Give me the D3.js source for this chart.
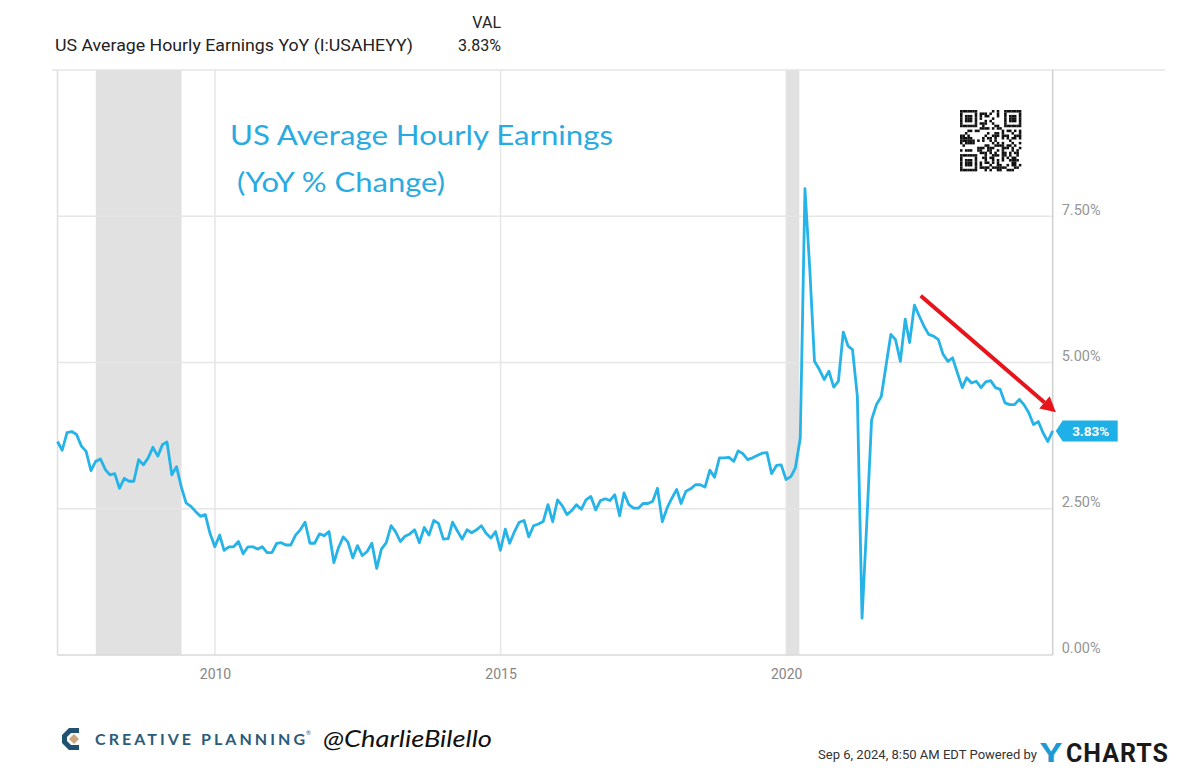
<!DOCTYPE html>
<html><head><meta charset="utf-8">
<script src="https://cdn.jsdelivr.net/npm/d3@7"></script>
<style>
html,body{margin:0;padding:0;background:#fff;}
svg{display:block;}
</style></head>
<body>
<svg id="chart" width="1200" height="775"></svg>
<script>
// ---------------- DATA ----------------
const seriesName = "US Average Hourly Earnings YoY (I:USAHEYY)";
const firstMonth = [2007, 3];   // March 2007, monthly observations to Aug 2024
const earningsYoY = [
 3.65,3.50,3.80,3.82,3.77,3.57,3.48,3.15,3.31,3.35,
 3.17,3.08,3.10,2.85,3.02,2.97,2.97,3.34,3.25,3.37,
 3.55,3.40,3.60,3.64,3.08,3.22,2.87,2.60,2.54,2.45,
 2.37,2.40,2.08,1.85,2.05,1.79,1.85,1.85,1.94,1.73,
 1.85,1.85,1.81,1.85,1.75,1.75,1.91,1.92,1.88,1.88,
 2.05,2.14,2.27,1.91,1.91,2.07,2.04,2.11,1.58,1.83,
 2.02,1.93,1.66,1.87,1.70,1.77,1.91,1.48,1.81,1.92,
 2.21,2.11,1.94,2.03,2.07,2.14,1.92,2.18,2.05,2.30,
 2.25,1.98,1.99,2.27,2.12,1.98,2.14,2.09,2.14,2.21,
 2.08,2.00,2.11,1.79,2.15,1.91,2.11,2.27,2.30,2.02,
 2.21,2.24,2.28,2.57,2.28,2.65,2.55,2.40,2.47,2.57,
 2.49,2.65,2.71,2.48,2.64,2.67,2.64,2.74,2.38,2.77,
 2.57,2.51,2.51,2.59,2.59,2.63,2.85,2.28,2.51,2.68,
 2.83,2.59,2.80,2.84,2.91,2.91,2.87,3.16,3.04,3.37,
 3.37,3.38,3.31,3.49,3.44,3.34,3.37,3.41,3.45,3.46,
 3.10,3.24,3.25,3.00,3.05,3.20,3.71,7.97,6.59,5.02,
 4.88,4.71,4.85,4.58,4.68,5.52,5.28,5.22,4.42,0.63,
 2.30,4.02,4.28,4.42,4.94,5.48,5.39,5.02,5.74,5.34,
 5.98,5.80,5.62,5.48,5.45,5.39,5.14,5.02,5.08,4.82,
 4.57,4.74,4.65,4.68,4.57,4.67,4.69,4.57,4.54,4.31,
 4.28,4.28,4.37,4.28,4.14,3.94,3.99,3.80,3.65,3.83
];
const lastValueLabel = "3.83%";
const yTicks = [0, 2.5, 5, 7.5];
const yTickLabels = ["0.00%", "2.50%", "5.00%", "7.50%"];
const xTickYears = [2010, 2015, 2020];
const recessionStarts = ["2007-12-01", "2020-01-01"];
const recessionEnds   = ["2009-06-01", "2020-03-25"];
const arrowFrom = ["2022-05-10", 6.14];
const arrowTo   = ["2024-09-20", 4.15];
const titleLines = ["US Average Hourly Earnings", "(YoY % Change)"];
const footerStamp = "Sep 6, 2024, 8:50 AM EDT Powered by";

// ---------------- SETUP ----------------
const svg = d3.select("#chart");
const parse = d3.utcParse("%Y-%m-%d");
const monthEnd = m => d3.utcDay.offset(d3.utcMonth.offset(m, 1), -1);
const startMonth = new Date(Date.UTC(firstMonth[0], firstMonth[1] - 1, 1));
const data = earningsYoY.map((v, i) => ({ date: monthEnd(d3.utcMonth.offset(startMonth, i)), value: v }));

const plot = { left: 57.5, right: 1052.7, top: 70, bottom: 655 };
const x = d3.scaleUtc().domain(d3.extent(data, d => d.date)).range([plot.left, plot.right]);
const y = d3.scaleLinear().domain([0, 10]).range([plot.bottom, plot.top]);

const gridColor = "#e6e6e6";
const lineColor = "#25b3e8";

// recession shading
svg.append("g").selectAll("rect")
  .data(recessionStarts.map((s, i) => [parse(s), parse(recessionEnds[i])]))
  .join("rect")
  .attr("x", d => x(d[0])).attr("width", d => x(d[1]) - x(d[0]))
  .attr("y", plot.top).attr("height", plot.bottom - plot.top)
  .attr("fill", "#e1e1e1");

// horizontal gridlines
svg.append("g").selectAll("line")
  .data(yTicks.filter(t => t > 0))
  .join("line")
  .attr("x1", plot.left).attr("x2", plot.right)
  .attr("y1", d => y(d)).attr("y2", d => y(d))
  .attr("stroke", gridColor).attr("stroke-width", 1.5);

// vertical gridlines
svg.append("g").selectAll("line")
  .data(xTickYears)
  .join("line")
  .attr("x1", d => x(new Date(Date.UTC(d, 0, 1)))).attr("x2", d => x(new Date(Date.UTC(d, 0, 1))))
  .attr("y1", plot.top).attr("y2", plot.bottom)
  .attr("stroke", gridColor).attr("stroke-width", 1.5);

// frame
svg.append("line").attr("x1", 52).attr("x2", 1165).attr("y1", plot.top).attr("y2", plot.top)
  .attr("stroke", "#e4e4e4").attr("stroke-width", 1.5);
svg.append("line").attr("x1", plot.left).attr("x2", plot.left).attr("y1", plot.top).attr("y2", plot.bottom)
  .attr("stroke", "#e0e0e0").attr("stroke-width", 1.5);
svg.append("line").attr("x1", plot.left).attr("x2", plot.right).attr("y1", plot.bottom).attr("y2", plot.bottom)
  .attr("stroke", "#d8d8d8").attr("stroke-width", 1.5);
svg.append("line").attr("x1", plot.right).attr("x2", plot.right).attr("y1", plot.top).attr("y2", plot.bottom)
  .attr("stroke", "#d0d0d0").attr("stroke-width", 1.5);

// y axis labels (right)
const yAxis = d3.axisRight(y).tickValues(yTicks).tickSize(0).tickPadding(9)
  .tickFormat((d, i) => yTickLabels[i]);
const gy = svg.append("g").attr("transform", `translate(${plot.right},0)`).call(yAxis);
gy.select(".domain").remove();
gy.selectAll("text").attr("font-family", "Roboto, sans-serif").attr("font-size", 14.5)
  .attr("fill", "#959595").attr("dy", "-0.15em");

// x axis labels
const xAxis = d3.axisBottom(x).tickValues(xTickYears.map(yr => new Date(Date.UTC(yr, 0, 1))))
  .tickSize(0).tickPadding(14).tickFormat(d3.utcFormat("%Y"));
const gx = svg.append("g").attr("transform", `translate(0,${plot.bottom})`).call(xAxis);
gx.select(".domain").remove();
gx.selectAll("text").attr("font-family", "Roboto, sans-serif").attr("font-size", 14).attr("fill", "#858585");

// data line
const line = d3.line().x(d => x(d.date)).y(d => y(d.value));
svg.append("path").datum(data).attr("d", line)
  .attr("fill", "none").attr("stroke", lineColor).attr("stroke-width", 2.8)
  .attr("stroke-linejoin", "round");

// last value tag
const last = data[data.length - 1];
const ty = y(last.value);
const tx = plot.right + 3;
svg.append("path")
  .attr("d", `M${tx},${ty} L${tx + 7},${ty - 10.5} L${tx + 62},${ty - 10.5} L${tx + 62},${ty + 10.5} L${tx + 7},${ty + 10.5} Z`)
  .attr("fill", "#1fb0e8");
svg.append("text").attr("x", tx + 35).attr("y", ty + 5).attr("text-anchor", "middle")
  .attr("font-family", "Roboto, sans-serif").attr("font-weight", 700).attr("font-size", 13.5)
  .attr("fill", "#fff").text(lastValueLabel);

// red arrow annotation
const ax1 = x(parse(arrowFrom[0])), ay1 = y(arrowFrom[1]);
const ax2 = x(parse(arrowTo[0])), ay2 = y(arrowTo[1]);
const ang = Math.atan2(ay2 - ay1, ax2 - ax1);
const headLen = 15, headW = 8;
const bx = ax2 - headLen * Math.cos(ang), by = ay2 - headLen * Math.sin(ang);
svg.append("line").attr("x1", ax1).attr("y1", ay1).attr("x2", bx).attr("y2", by)
  .attr("stroke", "#e8141c").attr("stroke-width", 4);
svg.append("path")
  .attr("d", `M${ax2},${ay2} L${bx + headW * Math.sin(ang)},${by - headW * Math.cos(ang)} L${bx - headW * Math.sin(ang)},${by + headW * Math.cos(ang)} Z`)
  .attr("fill", "#e8141c");

// chart title (handwritten style)
svg.append("text").attr("x", 230).attr("y", 145)
  .attr("font-family", "Lato, sans-serif").attr("font-size", 27)
  .attr("fill", "#29abe2").attr("textLength", 383).attr("lengthAdjust", "spacingAndGlyphs")
  .text(titleLines[0]);
svg.append("text").attr("x", 237).attr("y", 192)
  .attr("font-family", "Lato, sans-serif").attr("font-size", 27)
  .attr("fill", "#29abe2").attr("textLength", 208).attr("lengthAdjust", "spacingAndGlyphs")
  .text(titleLines[1]);

// QR-like code decoration
(function () {
  const n = 25, s = 2.45, ox = 960, oy = 110;
  const g = svg.append("g");
  g.append("rect").attr("x", ox - 2).attr("y", oy - 2).attr("width", n * s + 4).attr("height", n * s + 4).attr("fill", "#fff");
  const seed = "https://ycharts.com/indicators/us_average_hourly_earnings_yoy";
  let h = 2166136261;
  const cells = [];
  for (let r = 0; r < n; r++) for (let c = 0; c < n; c++) {
    const inFinder = (rr, cc) => rr >= 0 && rr < 7 && cc >= 0 && cc < 7;
    let on;
    const finders = [[0, 0], [0, n - 7], [n - 7, 0]];
    let f = finders.find(([fr, fc]) => inFinder(r - fr, c - fc));
    if (f) {
      const rr = r - f[0], cc = c - f[1];
      on = (rr === 0 || rr === 6 || cc === 0 || cc === 6) || (rr >= 2 && rr <= 4 && cc >= 2 && cc <= 4);
    } else if (finders.some(([fr, fc]) => r >= fr - 1 && r <= fr + 7 && c >= fc - 1 && c <= fc + 7)) {
      on = false;
    } else {
      h ^= seed.charCodeAt((r * n + c) % seed.length);
      h = Math.imul(h, 16777619) >>> 0;
      on = (h >>> 7) % 2 === 0;
    }
    if (on) cells.push([r, c]);
  }
  g.selectAll("rect.m").data(cells).join("rect").attr("class", "m")
    .attr("x", d => ox + d[1] * s).attr("y", d => oy + d[0] * s)
    .attr("width", s + 0.1).attr("height", s + 0.1).attr("fill", "#111");
})();

// header
svg.append("text").attr("x", 55).attr("y", 51)
  .attr("font-family", "Roboto, sans-serif").attr("font-size", 16).attr("fill", "#222")
  .attr("textLength", 358).attr("lengthAdjust", "spacingAndGlyphs").text(seriesName);
svg.append("text").attr("x", 501).attr("y", 28).attr("text-anchor", "end")
  .attr("font-family", "Roboto, sans-serif").attr("font-size", 16).attr("fill", "#222").text("VAL");
svg.append("text").attr("x", 501).attr("y", 51).attr("text-anchor", "end")
  .attr("font-family", "Roboto, sans-serif").attr("font-size", 16).attr("fill", "#222").text(lastValueLabel);

// footer: Creative Planning logo
const logo = svg.append("g").attr("transform", "translate(71,739)");
logo.append("path").attr("d", "M8,-11 L-2,-11 L-9,-4 L-9,4 L-2,11 L8,11 L8,6 L0,6 L-4,2 L-4,-2 L0,-6 L8,-6 Z")
  .attr("fill", "#1f5270");
logo.append("path").attr("d", "M3,-5 L8,0 L3,5 L-2,0 Z").attr("fill", "#c9a97c");
svg.append("text").attr("x", 95).attr("y", 745)
  .attr("font-family", "Lato, sans-serif").attr("font-weight", 700).attr("font-size", 16)
  .attr("fill", "#2b5b7a").attr("textLength", 210).attr("lengthAdjust", "spacing")
  .text("CREATIVE PLANNING");
svg.append("text").attr("x", 306).attr("y", 735)
  .attr("font-family", "Lato, sans-serif").attr("font-size", 6).attr("fill", "#2b5b7a").text("®");
svg.append("text").attr("x", 323).attr("y", 747)
  .attr("font-family", "Lato, sans-serif").attr("font-style", "italic").attr("font-size", 23)
  .attr("fill", "#111").attr("textLength", 169).attr("lengthAdjust", "spacingAndGlyphs")
  .text("@CharlieBilello");

// footer: timestamp and YCharts
svg.append("text").attr("x", 818).attr("y", 759)
  .attr("font-family", "Roboto, sans-serif").attr("font-size", 13).attr("fill", "#333")
  .attr("textLength", 219).attr("lengthAdjust", "spacingAndGlyphs").text(footerStamp);
svg.append("text").attr("x", 1040).attr("y", 762)
  .attr("font-family", "Roboto, sans-serif").attr("font-weight", 700).attr("font-size", 26)
  .attr("fill", "#1d9ad6").attr("textLength", 22).attr("lengthAdjust", "spacingAndGlyphs").text("Y");
svg.append("text").attr("x", 1066).attr("y", 762)
  .attr("font-family", "Roboto, sans-serif").attr("font-weight", 700).attr("font-size", 25)
  .attr("fill", "#1a1a1a").attr("textLength", 102).attr("lengthAdjust", "spacing").text("CHARTS");
</script>
</body></html>
